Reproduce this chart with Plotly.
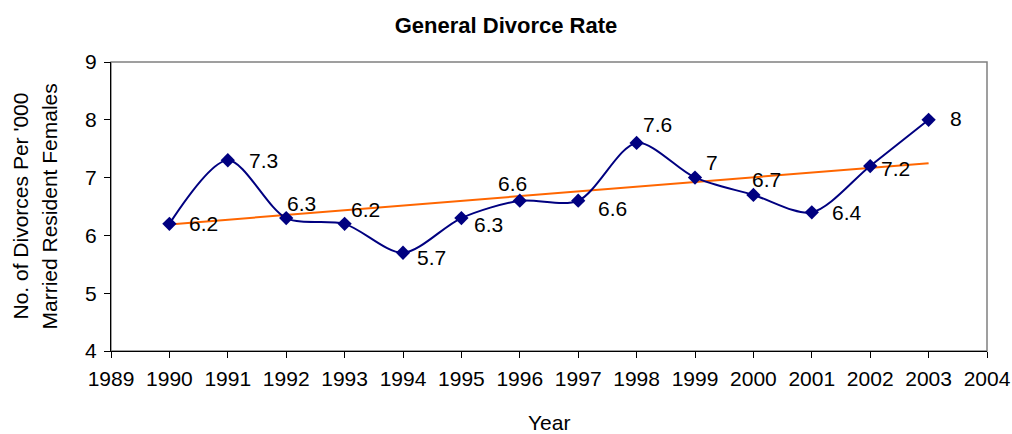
import plotly.graph_objects as go

# ---- data ----
years = [1990, 1991, 1992, 1993, 1994, 1995, 1996, 1997, 1998, 1999, 2000, 2001, 2002, 2003]
rate = [6.2, 7.3, 6.3, 6.2, 5.7, 6.3, 6.6, 6.6, 7.6, 7.0, 6.7, 6.4, 7.2, 8.0]
trend_years = [1990, 2003]
trend_values = [6.19, 7.25]
x_ticks = list(range(1989, 2005))
y_ticks = [4, 5, 6, 7, 8, 9]
labels = ["6.2", "7.3", "6.3", "6.2", "5.7", "6.3", "6.6", "6.6", "7.6", "7", "6.7", "6.4", "7.2", "8"]

# label offsets in pixels (left edge / vertical centre relative to marker)
label_dx = [18, 19, -1, 4, 12, 11, -24, 18, 4, 9, -3, 18, 9, 19]
label_dy = [0, 0, 15, 14, -5, -6, 17, -8, 18, 15, 15, 0, -2, 1]

FONT = "Liberation Sans, Arial, sans-serif"
NAVY = "#000080"
ORANGE = "#FF6600"

fig = go.Figure()
fig.add_trace(go.Scatter(
    x=trend_years, y=trend_values, mode="lines",
    line=dict(color=ORANGE, width=2), showlegend=False, hoverinfo="skip"))
fig.add_trace(go.Scatter(
    x=years, y=rate, mode="lines+markers",
    line=dict(color=NAVY, width=2, shape="spline", smoothing=0.85),
    marker=dict(symbol="diamond", size=11, color=NAVY),
    showlegend=False))

for xv, yv, t, dx, dy in zip(years, rate, labels, label_dx, label_dy):
    fig.add_annotation(x=xv, y=yv, text=t, showarrow=False,
                       xanchor="left", yanchor="middle",
                       xshift=dx, yshift=dy,
                       font=dict(family=FONT, size=21, color="black"))

# plot-area border (grey top/right)
fig.add_shape(type="rect", xref="paper", yref="paper", x0=0, y0=0, x1=1, y1=1,
              line=dict(color="#808080", width=1.5), layer="below")

# axis titles
fig.add_annotation(text="Year", xref="paper", yref="paper", x=0.5, y=0,
                   yshift=-71, xanchor="center", yanchor="middle", showarrow=False,
                   font=dict(family=FONT, size=21, color="black"))
fig.add_annotation(text="No. of Divorces Per '000",
                   xref="paper", yref="paper", x=0, y=0.5, xshift=-91,
                   xanchor="center", yanchor="middle", textangle=-90, showarrow=False,
                   font=dict(family=FONT, size=21, color="black"))
fig.add_annotation(text="Married Resident Females",
                   xref="paper", yref="paper", x=0, y=0.5, xshift=-62,
                   xanchor="center", yanchor="middle", textangle=-90, showarrow=False,
                   font=dict(family=FONT, size=21, color="black"))

fig.update_layout(
    width=1012, height=434, autosize=False,
    margin=dict(l=111, r=25, t=62, b=83, autoexpand=False),
    paper_bgcolor="white", plot_bgcolor="white",
    title=dict(text="<b>General Divorce Rate</b>", x=0.5, xref="container",
               y=1 - 25 / 434, yref="container", xanchor="center", yanchor="middle",
               font=dict(family=FONT, size=22, color="black")),
    xaxis=dict(range=[1989, 2004], tickvals=x_ticks, ticktext=[str(v) for v in x_ticks],
               automargin=False, ticklabelstandoff=3,
               showgrid=False, zeroline=False, showline=True, linecolor="black", linewidth=1,
               ticks="outside", ticklen=6, tickcolor="black",
               tickfont=dict(family=FONT, size=21, color="black")),
    yaxis=dict(range=[4, 9], tickvals=y_ticks, automargin=False, ticklabelstandoff=3,
               showgrid=False, zeroline=False, showline=True, linecolor="black", linewidth=1,
               ticks="outside", ticklen=6, tickcolor="black",
               tickfont=dict(family=FONT, size=21, color="black")),
)

fig.write_html("out.html",
               config={"displayModeBar": False, "responsive": False},
               post_script="document.body.style.margin='0';document.body.style.overflow='hidden';")
